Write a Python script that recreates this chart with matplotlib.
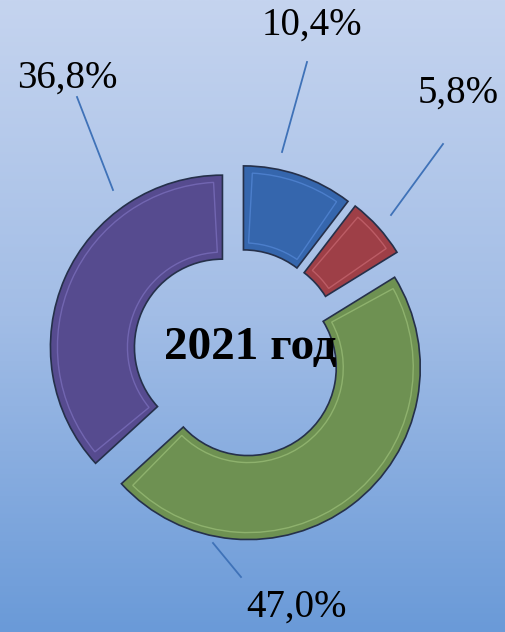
import numpy as np
import matplotlib
matplotlib.use("Agg")
import matplotlib.pyplot as plt
from matplotlib.colors import LinearSegmentedColormap
from matplotlib.patches import Wedge

# доли, %
labels = ["10,4%", "5,8%", "47,0%", "36,8%"]
values = [10.4, 5.8, 47.0, 36.8]
colors = ["#3566ad", "#9e3f47", "#6e9152", "#564b8f"]
bevel = ["#5b8fe0", "#d0707a", "#a4c880", "#8478c8"]
title = "2021 год"

W, H = 506, 632
fig = plt.figure(figsize=(W / 100, H / 100), dpi=100)
ax = fig.add_axes([0, 0, 1, 1])

# фон - вертикальный градиент
bg = LinearSegmentedColormap.from_list(
    "bg", [(0.0, "#6a9ad8"), (0.5, "#a2bde6"), (1.0, "#c5d4ef")])
grad = np.linspace(0, 1, 256).reshape(-1, 1)
ax.imshow(grad, cmap=bg, aspect="auto", extent=(0, W, 0, H), origin="lower", zorder=0)

cx, cy = 238, H - 354
R = 172
# explode задаётся в единицах данных (пиксели)
wedges, _ = ax.pie(values, colors=colors, startangle=90, counterclock=False,
                   center=(cx, cy), radius=R, explode=[17] * 4,
                   wedgeprops=dict(width=R - 88, edgecolor="#25304a", linewidth=1.2))
for w, bc in zip(wedges, bevel):
    w.set_zorder(2)
    # псевдо-фаска: внутренний контур чуть светлее
    ins = 7
    dth = np.degrees(ins / (w.r - w.width / 2))
    inner = Wedge(w.center, w.r - ins, w.theta1 + dth, w.theta2 - dth,
                  width=w.width - 2 * ins, facecolor="none",
                  edgecolor=bc, linewidth=1.0, alpha=0.6, zorder=2.5)
    ax.add_patch(inner)

# выноски
lines = [((307, 62), (282, 152)),
         ((443, 144), (391, 215)),
         ((213, 543), (241, 577)),
         ((77, 97), (113, 190))]
for (x1, y1), (x2, y2) in lines:
    ax.plot([x1, x2], [H - y1, H - y2], color="#3f72b8", lw=1.3, zorder=3)

pos = [(312, 25), (458, 93), (297, 607), (67, 78)]
for lab, (x, y) in zip(labels, pos):
    ax.text(x, H - y, lab, ha="center", va="center", fontsize=28,
            family="Liberation Serif", color="black", zorder=4)

ax.text(250, H - 348, title, ha="center", va="center", fontsize=34,
        fontweight="bold", family="Liberation Serif", zorder=4)

ax.set_xlim(0, W)
ax.set_ylim(0, H)
ax.set_aspect("equal")
ax.axis("off")

plt.savefig("out.png", dpi=100)
